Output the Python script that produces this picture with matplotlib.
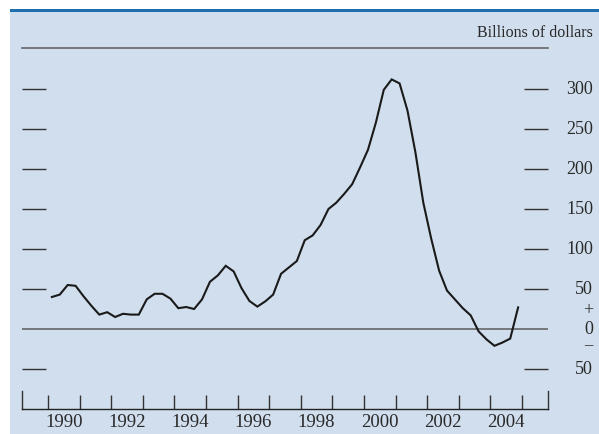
import matplotlib
matplotlib.use("Agg")
import matplotlib.pyplot as plt
import matplotlib.transforms as mtransforms
from matplotlib.patches import Rectangle
import numpy as np

plt.rcParams['font.family'] = ['Liberation Serif', 'DejaVu Serif']

# quarterly values, 1990Q1 - 2004Q4, billions of dollars
values = [40, 43, 55, 54,
          41, 29, 18, 21,
          15, 19, 18, 18,
          37, 44, 44, 38,
          26, 27.5, 25, 37,
          59, 67, 79, 72,
          51, 35, 28, 34.5,
          43, 69, 77, 85,
          111, 117, 130, 150,
          158, 169, 181, 202,
          224, 258, 299, 312,
          307, 273, 221, 158,
          113, 73, 48, 37,
          26, 17, -3, -13,
          -21, -17, -12, 27]
start_year = 1990
ytick_vals = [300, 250, 200, 150, 100, 50, 0, -50]
ytick_labels = ['300', '250', '200', '150', '100', '50', '0', '50']
year_labels = ['1990', '1992', '1994', '1996', '1998', '2000', '2002', '2004']

W, H = 599, 435
fig = plt.figure(figsize=(W / 100, H / 100), dpi=100)
fig.patch.set_facecolor('white')

# background panel and blue rule at the top
fig.patches.append(Rectangle((10 / W, 0), 1 - 10 / W, (H - 12) / H,
                             transform=fig.transFigure, facecolor='#d0deed',
                             edgecolor='none', zorder=-2))
fig.patches.append(Rectangle((10 / W, (H - 12.5) / H), 1 - 10 / W, 2.2 / H,
                             transform=fig.transFigure, facecolor='#1f6fae',
                             edgecolor='none', zorder=-1))

ax = fig.add_axes([22 / W, (H - 410) / H, (548 - 22) / W, (410 - 49) / H])
ax.set_facecolor('none')
ax.set_zorder(5)

t = start_year + (np.arange(len(values)) + 0.5) / 4
ax.plot(t, values, color='#1a1a1a', lw=1.5, zorder=5, solid_joinstyle='miter')

ax.set_xlim(1989.18, 2005.82)
ax.set_ylim(-100, 351.25)

for s in ['left', 'right']:
    ax.spines[s].set_visible(False)
ax.spines['top'].set_color('#666666')
ax.spines['top'].set_linewidth(1.2)
ax.spines['bottom'].set_color('#222222')
ax.spines['bottom'].set_linewidth(1.0)

# zero line
ax.axhline(0, color='#666666', lw=1.2, zorder=2)

# y dashes on both sides
ax.set_yticks([v for v in ytick_vals if v != 0])
ax.tick_params(axis='y', which='major', direction='in', length=17.3, width=1.0,
               color='#333333', left=True, right=True, labelleft=False, labelright=False)

trans = mtransforms.blended_transform_factory(fig.transFigure, ax.transData)
for v, lab in zip(ytick_vals, ytick_labels):
    ax.text(593 / W, v, lab, transform=trans, ha='right', va='center',
            fontsize=13, color='#2a2a2a', clip_on=False)
ax.text(588 / W, 24, '+', transform=trans, ha='center', va='center',
        fontsize=13, color='#2a2a2a', clip_on=False)
ax.text(588 / W, -19, '\u2013', transform=trans, ha='center', va='center',
        fontsize=12, color='#2a2a2a', clip_on=False)

# x ticks at year boundaries, labels mid-year
ax.set_xticks(np.arange(1990, 2006))
ax.set_xticklabels([])
ax.tick_params(axis='x', which='major', direction='in', length=10, width=1.0,
               color='#333333', top=False)
ax.set_xticks([int(y) + 0.5 for y in year_labels], minor=True)
ax.set_xticklabels(year_labels, minor=True, fontsize=13.5, color='#2a2a2a')
ax.tick_params(axis='x', which='minor', length=0, pad=3)
for xe in [1989.18, 2005.82]:
    ax.axvline(xe, ymin=0, ymax=18 / 361, color='#333333', lw=1.0, clip_on=False)

fig.text(593 / W, (H - 33) / H, 'Billions of dollars', ha='right', va='center',
         fontsize=11.5, color='#2a2a2a')

fig.savefig('out.png', dpi=100)
